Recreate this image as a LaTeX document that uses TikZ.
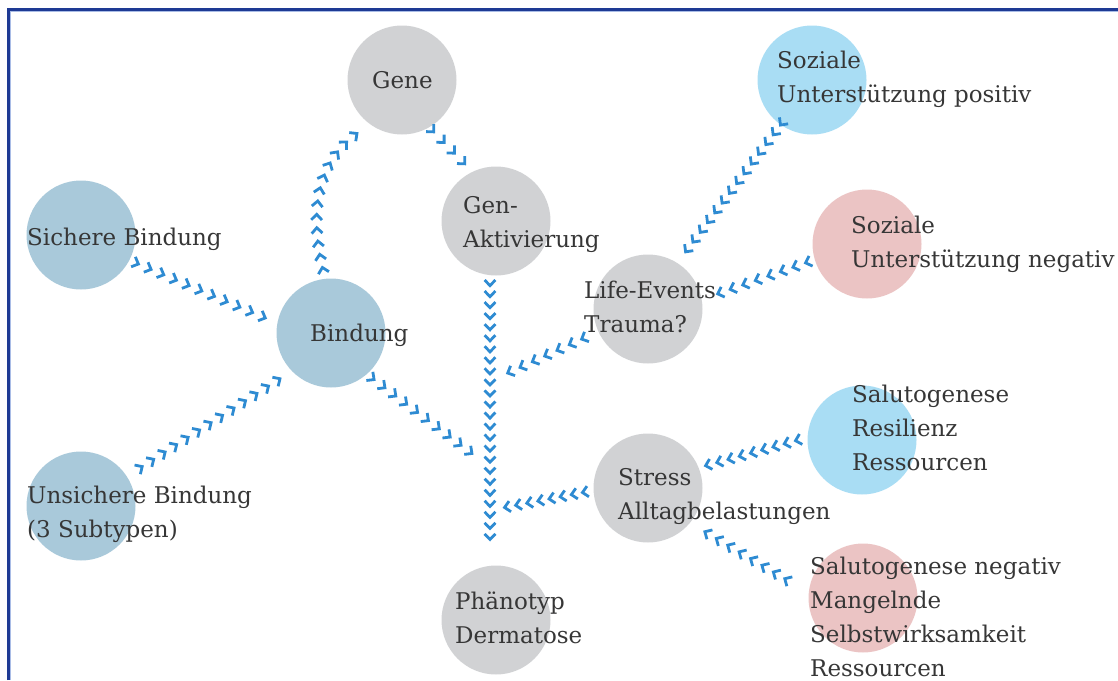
\documentclass[tikz,border=0pt]{standalone}
\usepackage{fontspec}
\setmainfont{DejaVu Serif}
\usetikzlibrary{decorations.markings,calc}
\definecolor{grayc}{HTML}{D1D2D4}
\definecolor{steelc}{HTML}{A9C9DA}
\definecolor{lbluec}{HTML}{A9DDF4}
\definecolor{pinkc}{HTML}{EBC4C4}
\definecolor{chevc}{HTML}{2E8BD2}
\definecolor{txtc}{HTML}{363636}
\definecolor{navyc}{HTML}{1E3A94}
\definecolor{paleb}{HTML}{A9BCE6}
\begin{document}
\begin{tikzpicture}[x=1pt,y=-1pt,
  circ/.style={circle,minimum size=109pt,inner sep=0pt,outer sep=0pt},
  txt/.style={anchor=base west,align=left,inner sep=0pt,text=txtc,font=\fontsize{23}{34}\selectfont},
  chev/.style={decorate,decoration={markings,mark=between positions 0 and 1 step #1 with {\draw[chevc,line width=2.8pt,line cap=butt,line join=miter] (-3pt,5.4pt)--(2.6pt,0pt)--(-3pt,-5.4pt);}}}]
\useasboundingbox (0,0) rectangle (1118,680);
% frame
\draw[navyc,line width=2.4pt] (8.6,680) -- (8.6,9.4) -- (1118,9.4);
\draw[paleb,line width=0.8pt] (10.4,680) -- (10.4,11.2) -- (1118,11.2);
% circles
\node[circ,fill=grayc] (gene) at (402,80) {};
\node[circ,fill=grayc] (genakt) at (496,221) {};
\node[circ,fill=steelc] (sich) at (81,235) {};
\node[circ,fill=steelc] (bind) at (331,333) {};
\node[circ,fill=steelc] (unsich) at (81,506) {};
\node[circ,fill=grayc] (life) at (648,309) {};
\node[circ,fill=lbluec] (sozpos) at (812,80) {};
\node[circ,fill=pinkc] (sozneg) at (867,244) {};
\node[circ,fill=grayc] (stress) at (648,488) {};
\node[circ,fill=lbluec] (salpos) at (862,440) {};
\node[circ,fill=pinkc] (salneg) at (863,598) {};
\node[circ,fill=grayc] (pheno) at (496,620) {};
% texts (anchor = baseline of the last line)
\node[txt] (genet) at (372,88) {Gene};
\node[txt] (genaktt) at (463,247) {Gen-\\Aktivierung};
\node[txt] (sicht) at (27,245) {Sichere Bindung};
\node[txt] (bindt) at (310,341) {Bindung};
\node[txt] (unsicht) at (27,537) {Unsichere Bindung\\(3 Subtypen)};
\node[txt] (lifet) at (584,332) {Life-Events\\Trauma?};
\node[txt] (sozpost) at (777,102) {Soziale\\Unterstützung positiv};
\node[txt] (soznegt) at (851,267) {Soziale\\Unterstützung negativ};
\node[txt] (salpost) at (852,470) {Salutogenese\\Resilienz\\Ressourcen};
\node[txt] (stresst) at (618,519) {Stress\\Alltagbelastungen};
\node[txt] (salnegt) at (810,676) {Salutogenese negativ\\Mangelnde\\Selbstwirksamkeit\\Ressourcen};
\node[txt] (phenot) at (455,643) {Phänotyp\\Dermatose};
% chevron connectors
\path[chev=0.0999] ($(sich)+(55,28)$) -- ($(bind)+(-68,-16)$);
\path[chev=0.0832] ($(unsich)+(59,-38)$) -- ($(bind)+(-53,47)$);
\path[chev=0.0908] ($(bind)+(-8,-63)$) .. controls +(-13,-55) and +(-40,30) .. ($(gene)+(-47,55)$);
\path[chev=0.333] ($(gene)+(30,50)$) -- ($(genakt)+(-33,-59)$);
\path[chev=0.04346] ($(genakt)+(-6,62)$) -- ($(pheno)+(-6,-83)$);
\path[chev=0.111] ($(bind)+(41,45)$) -- ($(pheno)+(-26,-168)$);
\path[chev=0.1665] ($(life)+(-64,29)$) -- ($(pheno)+(14,-248)$);
\path[chev=0.1427] ($(stress)+(-63,4)$) -- ($(pheno)+(11,-113)$);
\path[chev=0.0768] ($(sozpos)+(-30,43)$) -- ($(life)+(39,-59)$);
\path[chev=0.1427] ($(sozneg)+(-59,18)$) -- ($(life)+(72,-16)$);
\path[chev=0.1249] ($(salpos)+(-64,0)$) -- ($(stress)+(60,-23)$);
\path[chev=0.1427] ($(salneg)+(-76,-18)$) -- ($(stress)+(59,45)$);
\end{tikzpicture}
\end{document}
